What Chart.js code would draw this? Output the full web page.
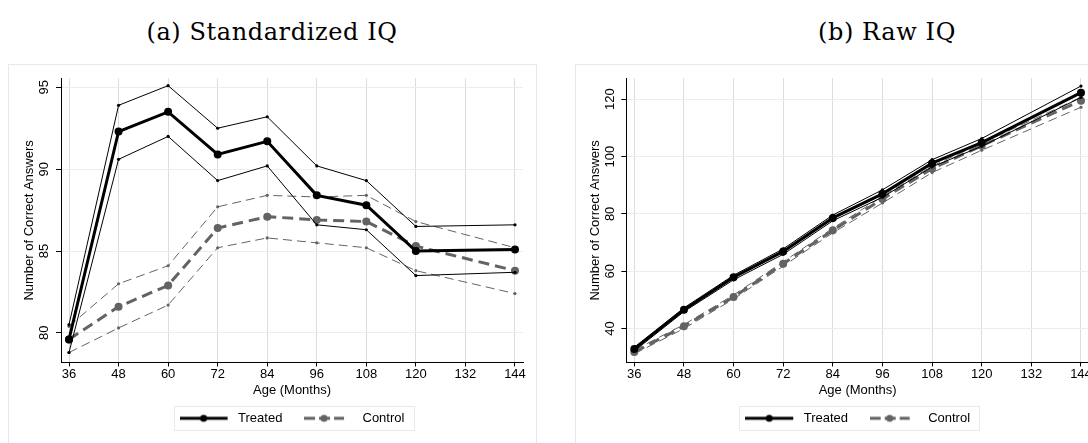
<!DOCTYPE html>
<html>
<head>
<meta charset="utf-8">
<script src="https://cdn.jsdelivr.net/npm/chart.js@4.4.1/dist/chart.umd.min.js"></script>
<style>
  body { margin: 0; width: 1088px; height: 443px; overflow: hidden; background: #fff; position: relative; }
  .ttl { position: absolute; top: 17px; height: 30px; line-height: 30px; width: 400px; text-align: center;
         font-family: "DejaVu Serif", serif; font-size: 24px; letter-spacing: 0.6px; color: #000; }
  .panel { position: absolute; top: 64px; height: 400px; border: 1px solid #e3ecec; box-sizing: border-box; }
</style>
</head>
<body>
<div class="ttl" style="left:72px">(a) Standardized IQ</div>
<div class="ttl" style="left:687px">(b) Raw IQ</div>
<div class="panel" style="left:8px; width:529px"><canvas id="chartStd"></canvas></div>
<div class="panel" style="left:575px; width:542px"><canvas id="chartRaw"></canvas></div>
<script>
// ages in months (no wave at 132)
const ages = [36, 48, 60, 72, 84, 96, 108, 120, 144]
const ageTicks = [36, 48, 60, 72, 84, 96, 108, 120, 132, 144]

// (a) standardized IQ
const stdTreated   = [79.6, 92.3, 93.5, 90.9, 91.7, 88.4, 87.8, 85.0, 85.1]
const stdTreatedHi = [80.5, 93.9, 95.1, 92.5, 93.2, 90.2, 89.3, 86.5, 86.6]
const stdTreatedLo = [78.8, 90.6, 92.0, 89.3, 90.2, 86.6, 86.3, 83.5, 83.7]
const stdControl   = [79.6, 81.6, 82.9, 86.4, 87.1, 86.9, 86.8, 85.3, 83.8]
const stdControlHi = [80.4, 83.0, 84.1, 87.7, 88.4, 88.3, 88.4, 86.8, 85.2]
const stdControlLo = [78.8, 80.3, 81.7, 85.2, 85.8, 85.5, 85.2, 83.8, 82.4]
const stdTicks = [80, 85, 90, 95]

// (b) raw IQ
const rawTreated   = [32.9, 46.6, 57.9, 66.9, 78.6, 87.0, 97.7, 104.9, 122.3]
const rawTreatedHi = [33.5, 47.2, 58.6, 67.8, 79.6, 88.4, 98.9, 106.3, 124.6]
const rawTreatedLo = [32.2, 45.9, 57.0, 65.9, 77.6, 85.8, 96.4, 103.6, 120.6]
const rawControl   = [31.8, 40.8, 51.0, 62.6, 74.3, 85.2, 95.8, 103.8, 119.5]
const rawControlHi = [32.5, 41.4, 51.7, 63.3, 75.0, 86.1, 96.7, 104.6, 120.7]
const rawControlLo = [31.2, 40.0, 50.3, 61.8, 73.4, 83.8, 94.4, 102.2, 117.2]
const rawTicks = [40, 60, 80, 100, 120]

const BLACK = '#000000'
const GREY = '#636363'

Chart.defaults.font.family = '"Liberation Sans", Arial, sans-serif'
Chart.defaults.font.size = 13
Chart.defaults.color = '#000'

function pts(vals) {
    return ages.map((a, i) => ({ x: a, y: vals[i] }))
}

// little legend samples: line with a dot in the middle
function sample(color, dash, len) {
    const c = document.createElement('canvas')
    c.width = 52
    c.height = 12
    const g = c.getContext('2d')
    g.strokeStyle = color
    g.lineWidth = 3
    g.setLineDash(dash)
    g.beginPath()
    g.moveTo(0, 6)
    g.lineTo(len, 6)
    g.stroke()
    g.fillStyle = color
    g.beginPath()
    g.arc(len / 2, 6, 3.5, 0, Math.PI * 2)
    g.fill()
    return c
}
const treatedKey = sample(BLACK, [], 48)
const controlKey = sample(GREY, [11, 4], 40)

const legendFrame = {
    id: 'legendFrame',
    afterDraw(chart) {
        const hb = chart.legend.legendHitBoxes
        if (!hb || hb.length < 2) return
        const ctx = chart.ctx
        const x0 = hb[0].left - 6
        const x1 = hb[1].left + hb[1].width + 9
        const cy = hb[0].top + hb[0].height / 2
        ctx.save()
        ctx.strokeStyle = '#e3ecec'
        ctx.lineWidth = 1
        ctx.strokeRect(Math.round(x0) + 0.5, Math.round(cy - 12.6) + 0.5, Math.round(x1 - x0), 24)
        ctx.restore()
    }
}

// stata style y labels, turned to read bottom to top
const yLabels = {
    id: 'yLabels',
    afterDraw(chart, args, o) {
        const sc = chart.scales.y
        const ctx = chart.ctx
        ctx.save()
        ctx.fillStyle = '#000'
        ctx.font = '13px "Liberation Sans", Arial, sans-serif'
        ctx.textAlign = 'center'
        ctx.textBaseline = 'middle'
        sc.ticks.forEach(t => {
            const y = sc.getPixelForValue(t.value)
            ctx.save()
            ctx.translate(sc.right - o.gap, y)
            ctx.rotate(-Math.PI / 2)
            ctx.fillText(String(t.value), 0, 0)
            ctx.restore()
        })
        ctx.restore()
    }
}

function makeChart(id, d, opt) {
    const line = (data, color, width, dash, r) => ({
        data: pts(data),
        borderColor: color,
        backgroundColor: color,
        pointBackgroundColor: color,
        pointBorderWidth: 0,
        borderWidth: width,
        borderDash: dash,
        pointRadius: r,
        tension: 0,
        fill: false
    })
    return new Chart(document.getElementById(id), {
        type: 'line',
        data: {
            datasets: [
                Object.assign(line(d.treated, BLACK, 3, [], 4), { label: 'Treated', order: 0 }),
                Object.assign(line(d.treatedHi, BLACK, 1, [], 1.6), { label: 'hi', order: 1 }),
                Object.assign(line(d.treatedLo, BLACK, 1, [], 1.6), { label: 'lo', order: 1 }),
                Object.assign(line(d.control, GREY, 3, [11, 6], 4), { label: 'Control', order: 2 }),
                Object.assign(line(d.controlHi, GREY, 1, [9, 5], 1.6), { label: 'hi', order: 3 }),
                Object.assign(line(d.controlLo, GREY, 1, [9, 5], 1.6), { label: 'lo', order: 3 })
            ]
        },
        options: {
            responsive: true,
            maintainAspectRatio: false,
            animation: false,
            events: [],
            layout: { padding: { top: 13.3, right: opt.padRight, bottom: 28.2, left: 0 } },
            plugins: {
                tooltip: { enabled: false },
                yLabels: { gap: opt.labelGap },
                legend: {
                    position: 'bottom',
                    fullSize: false,
                    labels: {
                        usePointStyle: true,
                        pointStyleWidth: 52,
                        padding: 21.6,
                        color: '#000',
                        font: { size: 13 },
                        generateLabels: () => [
                            { text: 'Treated', pointStyle: treatedKey, fillStyle: BLACK, strokeStyle: BLACK, lineWidth: 0, hidden: false, datasetIndex: 0, fontColor: '#000' },
                            { text: 'Control', pointStyle: controlKey, fillStyle: GREY, strokeStyle: GREY, lineWidth: 0, hidden: false, datasetIndex: 3, fontColor: '#000' }
                        ]
                    }
                }
            },
            scales: {
                x: {
                    type: 'linear',
                    min: 34.06,
                    max: 145.94,
                    afterBuildTicks: axis => { axis.ticks = ageTicks.map(v => ({ value: v })) },
                    afterFit: axis => { axis.height = 27.7 },
                    grid: { color: '#dcdede', tickColor: BLACK, tickLength: 4 },
                    border: { color: BLACK, width: 1 },
                    ticks: { padding: 0, maxRotation: 0, autoSkip: false, font: { size: 13 } },
                    title: { display: true, text: 'Age (Months)', font: { size: 13 }, padding: { top: 0, bottom: -8.1 } }
                },
                y: {
                    min: opt.yMin,
                    max: opt.yMax,
                    afterBuildTicks: axis => { axis.ticks = opt.yTicks.map(v => ({ value: v })) },
                    afterFit: axis => { axis.width = opt.yWidth },
                    grid: { color: '#e6efef', tickColor: BLACK, tickLength: 5 },
                    border: { color: BLACK, width: 1 },
                    ticks: { display: false },
                    title: { display: true, text: 'Number of Correct Answers', font: { size: 13 }, padding: { top: opt.titlePad, bottom: 0 } }
                }
            }
        },
        plugins: [legendFrame, yLabels]
    })
}

makeChart('chartStd',
    { treated: stdTreated, treatedHi: stdTreatedHi, treatedLo: stdTreatedLo, control: stdControl, controlHi: stdControlHi, controlLo: stdControlLo },
    { yMin: 78.19, yMax: 95.55, yTicks: stdTicks, yWidth: 52, labelGap: 17, titlePad: 12.2, padRight: 13 })

makeChart('chartRaw',
    { treated: rawTreated, treatedHi: rawTreatedHi, treatedLo: rawTreatedLo, control: rawControl, controlHi: rawControlHi, controlLo: rawControlLo },
    { yMin: 28.16, yMax: 127.3, yTicks: rawTicks, yWidth: 50.3, labelGap: 16.3, titlePad: 11.5, padRight: 27 })
</script>
</body>
</html>
